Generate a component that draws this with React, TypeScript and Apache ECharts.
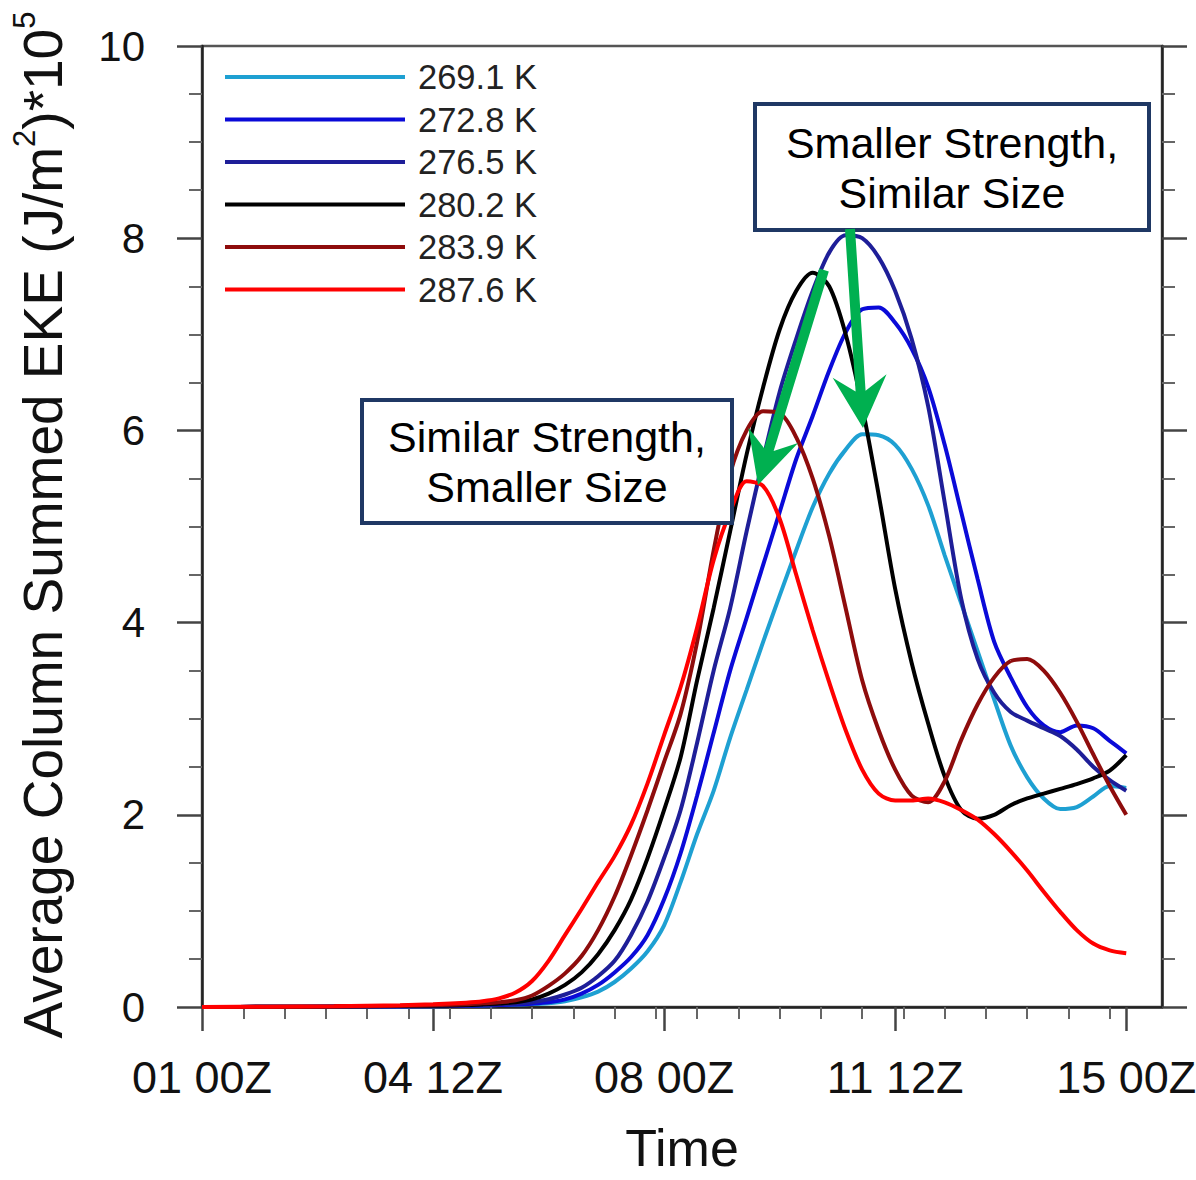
import React, { useEffect, useRef } from "react";
import * as echarts from "echarts";

const FONT = "'Liberation Sans', Arial, Helvetica, sans-serif";

// time in hours since 01 00Z
const hours = [0, 24, 48, 72, 84, 96, 102, 108, 114, 120, 126, 132, 138, 144, 150, 156, 162, 168, 174, 180, 186, 192, 198, 204, 210, 216, 222, 228, 234, 240, 246, 252, 258, 264, 270, 276, 282, 288, 294, 300, 306, 312, 318, 324, 330, 336];

const seriesNames = ["269.1 K", "272.8 K", "276.5 K", "280.2 K", "283.9 K", "287.6 K"];
const seriesColors = ["#1ea0d2", "#0a0ad8", "#1e1e98", "#000000", "#8e0c0c", "#ff0000"];

const eke269 = [0, 0.002, 0.004, 0.006, 0.008,
  0.012, 0.015, 0.02, 0.025, 0.03, 0.04, 0.06, 0.1, 0.16, 0.26,
  0.4, 0.58, 0.85, 1.3, 1.8, 2.25, 2.8, 3.3, 3.8, 4.28,
  4.75, 5.2, 5.55, 5.8, 5.96, 5.95, 5.85, 5.6, 5.22, 4.7,
  4.2, 3.7, 3.2, 2.72, 2.39, 2.17, 2.06, 2.08, 2.19, 2.3,
  2.28];
const eke272 = [0, 0.002, 0.004, 0.006, 0.008,
  0.012, 0.016, 0.02, 0.025, 0.035, 0.05, 0.08, 0.14, 0.23, 0.36,
  0.52, 0.75, 1.12, 1.6, 2.2, 2.85, 3.5, 4.05, 4.6, 5.15,
  5.7, 6.15, 6.62, 7.02, 7.26, 7.28, 7.12, 6.85, 6.45, 5.85,
  5.15, 4.45, 3.8, 3.43, 3.12, 2.93, 2.86, 2.93, 2.9, 2.77,
  2.64];
const eke276 = [0, 0.002, 0.004, 0.007, 0.01,
  0.015, 0.02, 0.025, 0.035, 0.05, 0.08, 0.13, 0.2, 0.32, 0.48,
  0.75, 1.1, 1.55, 2.05, 2.75, 3.5, 4.15, 4.95, 5.7, 6.4,
  6.95, 7.45, 7.85, 8.03, 8.0, 7.8, 7.45, 6.95, 6.25, 5.25,
  4.25, 3.62, 3.27, 3.07, 2.98, 2.9, 2.82, 2.68, 2.5, 2.36,
  2.25];
const eke280 = [0, 0.002, 0.005, 0.01, 0.014,
  0.02, 0.027, 0.036, 0.05, 0.08, 0.14, 0.23, 0.36, 0.55, 0.8,
  1.12, 1.55, 2.05, 2.6, 3.4, 4.15, 4.95, 5.75, 6.45, 7.05,
  7.45, 7.64, 7.5, 7.0, 6.25, 5.33, 4.35, 3.58, 2.95, 2.4,
  2.05, 1.96, 2.0, 2.1, 2.17, 2.22, 2.27, 2.32, 2.38, 2.46,
  2.62];
const eke283 = [0, 0.002, 0.005, 0.012, 0.018,
  0.028, 0.038, 0.05, 0.07, 0.12, 0.22, 0.35, 0.53, 0.8, 1.15,
  1.58, 2.05, 2.55, 3.05, 3.8, 4.75, 5.55, 6.0, 6.2, 6.18,
  5.93, 5.5, 4.9, 4.15, 3.4, 2.88, 2.47, 2.2, 2.13, 2.35,
  2.78, 3.15, 3.43, 3.6, 3.62, 3.5, 3.27, 2.97, 2.63, 2.3,
  2.0];
const eke287 = [0, 0.003, 0.008, 0.018, 0.028,
  0.045, 0.06, 0.09, 0.15, 0.27, 0.48, 0.75, 1.02, 1.3, 1.57,
  1.9, 2.33, 2.83, 3.33, 3.95, 4.65, 5.15, 5.47, 5.42, 5.08,
  4.5, 3.92, 3.38, 2.88, 2.47, 2.22, 2.15, 2.15, 2.17, 2.13,
  2.05, 1.95, 1.8, 1.62, 1.42, 1.2, 0.99, 0.8, 0.66, 0.59,
  0.56];
const seriesValues = [eke269, eke272, eke276, eke280, eke283, eke287];

const majorTickHours = [0, 84, 168, 252, 336];
const majorTickLabels = ["01 00Z", "04 12Z", "08 00Z", "11 12Z", "15 00Z"];
const minorTickHours = [15, 30, 45, 60, 75, 90, 105, 120, 135, 150, 165, 180, 195, 210, 225, 240, 255, 270, 285, 300, 315, 330];

const boxTexts = ["Smaller Strength,\nSimilar Size", "Similar Strength,\nSmaller Size"];

function arrowPoints(sx: number, sy: number, tx: number, ty: number, shaftW: number, headLen: number, headHalf: number, notch: number) {
  const dx = tx - sx, dy = ty - sy;
  const L = Math.hypot(dx, dy);
  const ux = dx / L, uy = dy / L;
  const nx = -uy, ny = ux;
  const bx = tx - ux * headLen, by = ty - uy * headLen;
  const jx = tx - ux * (headLen - notch), jy = ty - uy * (headLen - notch);
  const h = shaftW / 2;
  return [
    [sx + nx * h, sy + ny * h],
    [jx + nx * h, jy + ny * h],
    [bx + nx * headHalf, by + ny * headHalf],
    [tx, ty],
    [bx - nx * headHalf, by - ny * headHalf],
    [jx - nx * h, jy - ny * h],
    [sx - nx * h, sy - ny * h],
  ];
}

export default function App() {
  const ref = useRef<HTMLDivElement>(null);
  useEffect(() => {
    if (!ref.current) return;
    const chart = echarts.init(ref.current, null, { renderer: "svg" });
    const axisLineStyle = { color: "#222", width: 2.5 };
    const tickStyle = { color: "#444", width: 2.5 };
    const minorStyle = { color: "#666", width: 2 };
    const yAxisBase = {
      type: "value",
      min: 0,
      max: 10,
      interval: 2,
      axisLine: { show: true, onZero: false, lineStyle: axisLineStyle },
      axisTick: { show: true, inside: false, length: 25, lineStyle: tickStyle },
      minorTick: { show: true, splitNumber: 4, length: 13, lineStyle: minorStyle },
      splitLine: { show: false },
      minorSplitLine: { show: false },
    };
    const option: any = {
      animation: false,
      backgroundColor: "#ffffff",
      textStyle: { fontFamily: FONT },
      grid: {
        left: 202, right: 34, top: 46, bottom: 173,
        outerBoundsMode: "none",
        containLabel: false,
        show: true, borderColor: "#555", borderWidth: 2.5, backgroundColor: "transparent",
      },
      legend: {
        orient: "vertical",
        left: 225,
        top: 59,
        padding: 0,
        itemWidth: 180,
        itemHeight: 4,
        itemGap: 6.5,
        icon: "rect",
        textStyle: { fontSize: 34.5, color: "#222", lineHeight: 36, fontFamily: FONT, padding: [0, 0, 0, 8] },
        data: seriesNames,
      },
      xAxis: [
        {
          type: "value",
          min: 0,
          max: 349,
          position: "bottom",
          axisLine: { show: true, onZero: false, lineStyle: axisLineStyle },
          axisTick: { show: true, inside: false, length: 24, customValues: majorTickHours, lineStyle: tickStyle },
          axisLabel: {
            show: true,
            customValues: majorTickHours,
            formatter: (v: number) => {
              const i = majorTickHours.indexOf(Math.round(v));
              return i >= 0 ? majorTickLabels[i] : "";
            },
            fontSize: 45,
            color: "#111",
            margin: 48,
            fontFamily: FONT,
          },
          splitLine: { show: false },
          name: "Time",
          nameLocation: "middle",
          nameGap: 120,
          nameTextStyle: { fontSize: 52, lineHeight: 42, color: "#111", fontFamily: FONT },
        },
        {
          type: "value",
          min: 0,
          max: 349,
          position: "bottom",
          axisLine: { show: false },
          axisTick: { show: true, inside: false, length: 12, customValues: minorTickHours, lineStyle: minorStyle },
          axisLabel: { show: false },
          splitLine: { show: false },
        },
      ],
      yAxis: [
        { ...yAxisBase, position: "left", axisLabel: { show: true, fontSize: 42, color: "#111", margin: 57, fontFamily: FONT } },
        { ...yAxisBase, position: "right", axisLabel: { show: false } },
      ],
      series: seriesNames.map((name, k) => ({
        name,
        type: "line",
        xAxisIndex: 0,
        yAxisIndex: 0,
        smooth: 0.3,
        symbol: "none",
        data: hours.map((h, i) => [h, seriesValues[k][i]]),
        itemStyle: { color: seriesColors[k] },
        lineStyle: { color: seriesColors[k], width: 4 },
      })),
      graphic: [
        {
          type: "text",
          x: 43,
          y: 525,
          rotation: Math.PI / 2,
          style: {
            text: "{m|Average Column Summed EKE (J/m}{s|2}{m|)*10}{s|5}",
            align: "center",
            verticalAlign: "middle",
            rich: {
              m: { fontSize: 55, fontFamily: FONT, fill: "#111", lineHeight: 60 },
              s: { fontSize: 31, fontFamily: FONT, fill: "#111", padding: [0, 0, 38, 0] },
            },
          },
          z: 100,
        },
        {
          type: "rect",
          shape: { x: 755, y: 104, width: 394, height: 126 },
          style: { fill: "#ffffff", stroke: "#1f3864", lineWidth: 4 },
          z: 100,
        },
        {
          type: "text",
          x: 952,
          y: 168,
          style: { text: boxTexts[0], align: "center", verticalAlign: "middle", fontSize: 43, lineHeight: 50, fontFamily: FONT, fill: "#000" },
          z: 101,
        },
        {
          type: "rect",
          shape: { x: 362, y: 400, width: 370, height: 123 },
          style: { fill: "#ffffff", stroke: "#1f3864", lineWidth: 4 },
          z: 100,
        },
        {
          type: "text",
          x: 547,
          y: 462,
          style: { text: boxTexts[1], align: "center", verticalAlign: "middle", fontSize: 43, lineHeight: 50, fontFamily: FONT, fill: "#000" },
          z: 101,
        },
        {
          type: "polygon",
          shape: { points: arrowPoints(824, 270, 758, 485, 10, 52, 26, 15) },
          style: { fill: "#00b050" },
          z: 102,
        },
        {
          type: "polygon",
          shape: { points: arrowPoints(850, 229, 863, 428, 10, 52, 27, 15) },
          style: { fill: "#00b050" },
          z: 102,
        },
      ],
    };
    chart.setOption(option);
    return () => chart.dispose();
  }, []);
  return <div ref={ref} style={{ position: "absolute", left: 0, top: 0, width: 1196, height: 1180 }} />;
}
